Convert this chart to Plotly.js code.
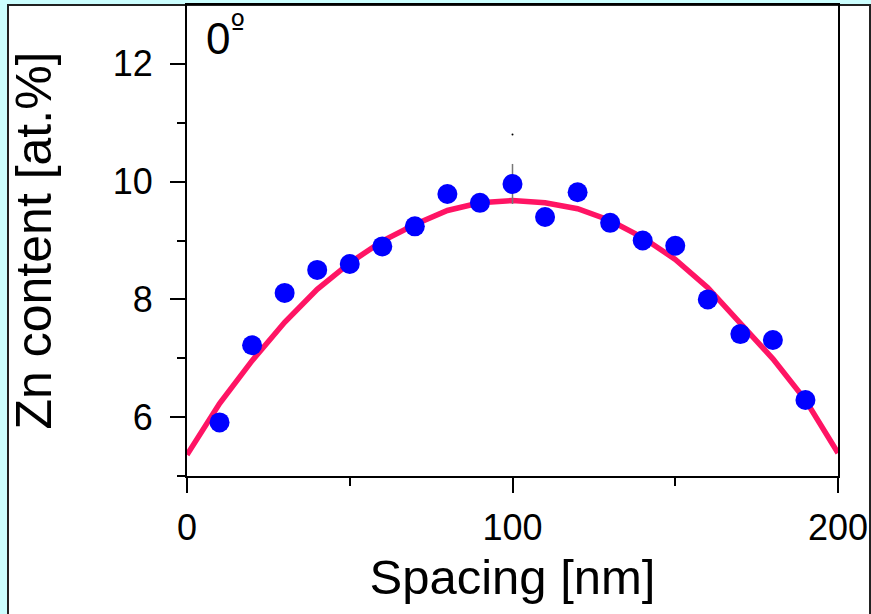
<!DOCTYPE html>
<html>
<head>
<meta charset="utf-8">
<script src="https://cdn.plot.ly/plotly-3.0.1.min.js"></script>
<style>html,body{margin:0;padding:0;background:#ccffff;}#chart{width:871px;height:614px;}</style>
</head>
<body>
<div id="chart"></div>
<script>
// Measured points
const spacing = [10, 20, 30, 40, 50, 60, 70, 80, 90, 100, 110, 120, 130, 140, 150, 160, 170, 180, 190];
const znContent = [5.91, 7.22, 8.11, 8.50, 8.60, 8.90, 9.24, 9.79, 9.64, 9.96, 9.40, 9.82, 9.30, 9.00, 8.91, 8.00, 7.41, 7.31, 6.29];
const znError = [0, 0, 0, 0, 0, 0, 0, 0, 0, 0.34, 0, 0, 0, 0, 0, 0, 0, 0, 0];
// Fitted curve
const fitX = [0, 10, 20, 30, 40, 50, 60, 70, 80, 90, 100, 110, 120, 130, 140, 150, 160, 170, 180, 190, 200];
const fitY = [5.36, 6.23, 6.96, 7.61, 8.17, 8.62, 8.99, 9.27, 9.51, 9.64, 9.68, 9.64, 9.54, 9.34, 9.05, 8.68, 8.20, 7.61, 6.99, 6.29, 5.39];
// Stray dot above the error bar
const strayX = [100];
const strayY = [10.8];
// Ticks
const xTicks = [0, 100, 200];
const yTicks = [6, 8, 10, 12];

const font = "Liberation Sans, Arial, Helvetica, sans-serif";

const traces = [
  {
    x: fitX, y: fitY, type: 'scatter', mode: 'lines',
    line: {color: '#ff1464', width: 5.5},
    hoverinfo: 'skip', showlegend: false, cliponaxis: true
  },
  {
    x: spacing, y: znContent, type: 'scatter', mode: 'markers',
    marker: {color: '#0000ff', size: 20},
    error_y: {type: 'data', array: znError, visible: true, color: '#777777', thickness: 1.5, width: 0},
    showlegend: false, cliponaxis: false
  },
  {
    x: strayX, y: strayY, type: 'scatter', mode: 'markers',
    marker: {color: '#000000', size: 2},
    showlegend: false
  }
];

const layout = {
  width: 871, height: 614,
  paper_bgcolor: '#ccffff',
  plot_bgcolor: 'rgba(0,0,0,0)',
  margin: {l: 187, r: 33, t: 5, b: 138},
  showlegend: false,
  font: {family: font, color: '#000000'},
  xaxis: {
    range: [0, 200],
    tickvals: xTicks, ticktext: xTicks.map(String),
    ticks: 'outside', ticklen: 15, tickwidth: 2, tickcolor: '#000',
    ticklabelstandoff: 4,
    minor: {tickvals: [50, 150], ticks: 'outside', ticklen: 8, tickwidth: 2, tickcolor: '#000'},
    showline: true, linecolor: '#000', linewidth: 2, mirror: true,
    showgrid: false, zeroline: false,
    tickfont: {size: 36, family: font},
    title: {text: 'Spacing [nm]', font: {size: 49, family: font}, standoff: 12}
  },
  yaxis: {
    range: [5, 13],
    tickvals: yTicks, ticktext: yTicks.map(String),
    ticks: 'outside', ticklen: 15, tickwidth: 2, tickcolor: '#000',
    ticklabelstandoff: 10,
    minor: {tickvals: [5, 7, 9, 11], ticks: 'outside', ticklen: 8, tickwidth: 2, tickcolor: '#000'},
    showline: true, linecolor: '#000', linewidth: 2, mirror: true,
    showgrid: false, zeroline: false,
    tickfont: {size: 36, family: font},
    title: {text: 'Zn content [at.%]', font: {size: 50, family: font}, standoff: 45}
  },
  shapes: [
    {type: 'rect', xref: 'paper', yref: 'paper', layer: 'below',
     x0: (8 - 187) / 651, x1: (870 - 187) / 651, y0: (476 - 640) / 471, y1: 1.0,
     fillcolor: '#ffffff', line: {color: '#222222', width: 2}}
  ],
  annotations: [
    {text: '0<sup><span style="font-family:DejaVu Sans">º</span></sup>', xref: 'paper', yref: 'paper', x: 0.026, y: 1.0,
     xanchor: 'left', yanchor: 'top', showarrow: false,
     font: {size: 44, family: font, color: '#000'}}
  ]
};

Plotly.newPlot('chart', traces, layout, {staticPlot: true, displayModeBar: false});
</script>
</body>
</html>
